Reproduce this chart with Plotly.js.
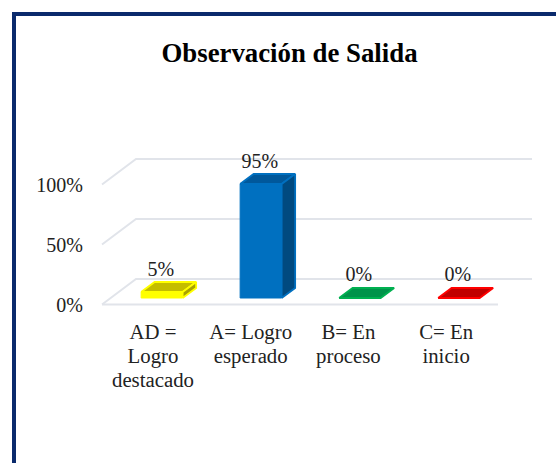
<!DOCTYPE html>
<html><head><meta charset="utf-8">
<script src="https://cdn.plot.ly/plotly-3.0.1.min.js"></script>
<style>html,body{margin:0;padding:0;background:#fff}#c{width:556px;height:463px}</style>
</head><body><div id="c"></div>
<script>
const categories = ['AD =<br>Logro<br>destacado','A= Logro<br>esperado','B= En<br>proceso','C= En<br>inicio'];
const values = [5,95,0,0];
const valueLabels = ['5%','95%','0%','0%'];
const yTicks = [0,50,100];
const yTickLabels = ['0%','50%','100%'];
const frontColors = ['#ffff00','#0070c0','#00b050','#ff0000'];
const topColors = ['#c4bd00','#00589b','#00934a','#c00000'];
const sideColors = ['#a8a200','#004a80','#007a3d','#a00000'];

const W = 556, H = 463;
const pxX = 99, pxY = 1.2;                 // pixels per category / per percent
const plot = {l:92, r:545, t:140, b:310};
const x0px = 151.5, y0px = 304.5;
const xRange = [(plot.l-x0px)/pxX, (plot.r-x0px)/pxX];
const yRange = [(y0px-plot.b)/pxY, (y0px-plot.t)/pxY];

// pseudo-3D floor and bar offsets, in axis units
const wallDx = 34/pxX, wallDy = 25.5/pxY;
const barDx = 13.5/pxX, barDy = 10/pxY;
const barW = 41.5/pxX, barOffX = 0.105, barBase = 6.5/pxY;
const gridColor = '#e1e4ea';

const shapes = [];
const line = (pts) => ({type:'path', layer:'below', xref:'x', yref:'y',
  path:'M'+pts.map(p=>p.join(',')).join('L'), line:{color:gridColor,width:2}});
const fl = -0.5, fr = 3.5;
yTicks.forEach(t => shapes.push(line([[fl,t],[fl+wallDx,t+wallDy],[fr+wallDx,t+wallDy]])));
shapes.push(line([[fl,0],[fr,0]]));
// card border, left and top only
shapes.push({type:'path', xref:'paper', yref:'paper', layer:'above',
  path:`M${14/W},0L${14/W},${1-14/H}L1,${1-14/H}`, line:{color:'#0a2a6c',width:4}});

const xs = categories.map((_,i)=>i+barOffX);
const traces = [{
  type:'bar', x:xs, y:values, base:barBase, width:barW,
  marker:{color:frontColors, line:{color:frontColors,width:1}}, hoverinfo:'skip', showlegend:false
}];
values.forEach((v,i)=>{
  const a = xs[i]-barW/2, b = xs[i]+barW/2, lo = barBase, hi = barBase+v;
  traces.push({type:'scatter',mode:'lines',fill:'toself',fillcolor:topColors[i],
    x:[a,b,b+barDx,a+barDx,a], y:[hi,hi,hi+barDy,hi+barDy,hi],
    line:{color:frontColors[i],width:1.8}, hoverinfo:'skip', showlegend:false});
  if(v>0) traces.push({type:'scatter',mode:'lines',fill:'toself',fillcolor:sideColors[i],
    x:[b,b+barDx,b+barDx,b,b], y:[lo,lo+barDy,hi+barDy,hi,lo],
    line:{color:frontColors[i],width:1.8}, hoverinfo:'skip', showlegend:false});
});
traces.push({type:'scatter',mode:'text',
  x:xs.map(x=>x-0.01), y:values.map(v=>barBase+v+barDy+(v>0?0.7:1.8)),
  text:valueLabels, textposition:'top center',
  textfont:{family:'"Liberation Serif",serif',size:20,color:'#222'},
  hoverinfo:'skip', showlegend:false, cliponaxis:false});

const layout = {
  width:W, height:H, margin:{l:0,r:0,t:0,b:0}, paper_bgcolor:'#fff', plot_bgcolor:'rgba(0,0,0,0)',
  font:{family:'"Liberation Serif",serif',size:20,color:'#222'},
  title:{text:'<b>Observación de Salida</b>', x:289.5/W, xref:'paper', xanchor:'center',
         y:1-53/H, yref:'paper', yanchor:'middle', font:{family:'"Liberation Serif",serif',size:26.8,color:'#000'}},
  showlegend:false, shapes, bargap:0,
  xaxis:{domain:[plot.l/W,plot.r/W], range:xRange, tickmode:'array', tickvals:categories.map((_,i)=>i*0.987+0.015), ticktext:categories,
         tickfont:{size:20.8},
         showgrid:false, zeroline:false, showline:false, ticks:'outside', ticklen:3, tickcolor:'rgba(0,0,0,0)'},
  yaxis:{domain:[1-plot.b/H,1-plot.t/H], range:yRange, tickmode:'array', tickvals:yTicks, ticktext:yTickLabels,
         showgrid:false, zeroline:false, showline:false, ticks:'outside', ticklen:4, tickcolor:'rgba(0,0,0,0)'}
};
Plotly.newPlot('c',traces,layout,{displayModeBar:false,staticPlot:true}).then(gd=>{
  // tighter line spacing for the multi-line category labels
  gd.querySelectorAll('.xtick text tspan.line').forEach(t=>{
    const d = parseFloat(t.getAttribute('dy'))||0;
    t.setAttribute('dy',(d/1.3*1.16)+'em');
  });
});
</script></body></html>
